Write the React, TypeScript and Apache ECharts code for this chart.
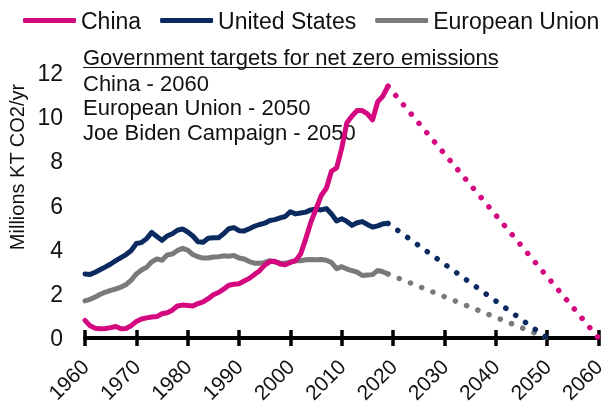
import React, { useEffect, useRef } from "react";
import * as echarts from "echarts";

const years: number[] = [];
for (let y = 1960; y <= 2019; y++) years.push(y);

const chinaValues = [
  0.8, 0.55, 0.44, 0.42, 0.43, 0.47, 0.52, 0.42, 0.43, 0.56,
  0.75, 0.86, 0.91, 0.95, 0.97, 1.1, 1.14, 1.26, 1.45, 1.49,
  1.47, 1.45, 1.56, 1.64, 1.78, 1.96, 2.06, 2.21, 2.39, 2.43,
  2.46, 2.58, 2.7, 2.88, 3.05, 3.3, 3.46, 3.47, 3.35, 3.32,
  3.42, 3.5, 3.8, 4.5, 5.25, 5.85, 6.45, 6.78, 7.55, 7.7,
  8.6, 9.75, 10.05, 10.3, 10.3, 10.15, 9.88, 10.7, 10.95, 11.4,
];
const usValues = [
  2.9, 2.88, 2.98, 3.1, 3.22, 3.35, 3.5, 3.64, 3.78, 3.96,
  4.28, 4.32, 4.5, 4.78, 4.6, 4.42, 4.62, 4.72, 4.88, 4.94,
  4.8, 4.62, 4.36, 4.34, 4.52, 4.54, 4.54, 4.72, 4.95, 5.0,
  4.86, 4.85, 4.95, 5.06, 5.14, 5.2, 5.32, 5.36, 5.44, 5.5,
  5.72, 5.62, 5.66, 5.7, 5.8, 5.84, 5.8, 5.86, 5.62, 5.3,
  5.4, 5.28, 5.1, 5.22, 5.27, 5.14, 5.02, 5.08, 5.17, 5.19,
];
const euValues = [
  1.68, 1.75, 1.86, 1.98, 2.08, 2.16, 2.22, 2.3, 2.42, 2.62,
  2.9, 3.08, 3.2, 3.45, 3.58, 3.52, 3.76, 3.8, 3.96, 4.06,
  3.98, 3.78, 3.68, 3.62, 3.62, 3.67, 3.68, 3.72, 3.7, 3.74,
  3.62, 3.58, 3.46, 3.39, 3.38, 3.42, 3.5, 3.44, 3.4, 3.38,
  3.44, 3.5, 3.5, 3.54, 3.55, 3.54, 3.55, 3.52, 3.42, 3.14,
  3.23, 3.12, 3.05, 2.98, 2.83, 2.85, 2.87, 3.06, 3.0, 2.9,
];

// Net-zero target years (projection end points)
const chinaTarget = [2060, 0];
const usTarget = [2050, 0];
const euTarget = [2050, 0];

const seriesNames = ["China", "United States", "European Union"];
const annotationTitle = "Government targets for net zero emissions";
const annotationLines = [
  "China - 2060",
  "European Union - 2050",
  "Joe Biden Campaign - 2050",
];
const yAxisName = "Millions KT CO2/yr";

const COLORS = { china: "#d4087f", us: "#0b2a5f", eu: "#7a7a7a" };
const FONT = "'Liberation Sans', Arial, sans-serif";
const TEXT = "#111";

function pairs(vals: number[]) {
  return years.map((y, i) => [y, vals[i]]);
}

export default function App() {
  const ref = useRef<HTMLDivElement>(null);
  useEffect(() => {
    if (!ref.current) return;
    const chart = echarts.init(ref.current, undefined, { renderer: "svg" });
    const last = years.length - 1;
    const solid = (name: string, vals: number[], color: string, z: number) => ({
      name,
      type: "line",
      data: pairs(vals),
      showSymbol: false,
      symbol: "none",
      z,
      lineStyle: { color, width: 5, cap: "round", join: "round" },
      itemStyle: { color },
    });
    const dotted = (name: string, vals: number[], target: number[], color: string, z: number) => ({
      name,
      type: "line",
      data: [[years[last], vals[last]], target],
      showSymbol: false,
      symbol: "none",
      z,
      lineStyle: { color, width: 5.5, type: [0.1, 12], cap: "round" },
    });
    const axisCommon = {
      type: "value",
      min: 1960,
      max: 2060,
      interval: 10,
      position: "bottom",
      splitLine: { show: false },
    };
    chart.setOption({
      animation: false,
      textStyle: { fontFamily: FONT },
      grid: {
        left: 85,
        right: 7.5,
        top: 73,
        bottom: 65,
        containLabel: false,
        outerBoundsMode: "none",
      },
      legend: {
        data: seriesNames,
        left: 23,
        top: 9,
        width: 600,
        padding: 0,
        itemWidth: 53,
        itemHeight: 5,
        itemGap: 19,
        icon: "roundRect",
        textStyle: { fontSize: 23, color: TEXT, fontFamily: FONT },
      },
      xAxis: [
        {
          ...axisCommon,
          axisLine: { show: true, lineStyle: { color: "#000", width: 4 } },
          axisTick: { show: true, length: 8, lineStyle: { color: "#000", width: 3.5 } },
          axisLabel: {
            rotate: 45,
            margin: 25,
            fontSize: 21,
            color: TEXT,
            fontFamily: FONT,
            formatter: (v: number) => String(v),
          },
        },
        {
          ...axisCommon,
          offset: 0,
          axisLine: { show: false },
          axisTick: { show: true, inside: true, length: 8, lineStyle: { color: "#000", width: 3.5 } },
          axisLabel: { show: false },
        },
      ],
      yAxis: {
        type: "value",
        min: 0,
        max: 12,
        interval: 2,
        axisLine: { show: false },
        axisTick: { show: false },
        splitLine: { show: false },
        axisLabel: { fontSize: 23, color: TEXT, margin: 22, fontFamily: FONT },
      },
      graphic: [
        {
          type: "text",
          x: 17,
          y: 167,
          rotation: Math.PI / 2,
          style: {
            text: yAxisName,
            font: `20px ${FONT}`,
            fill: TEXT,
            align: "center",
            verticalAlign: "middle",
          },
        },
        {
          type: "text",
          x: 83,
          y: 57,
          style: {
            text: annotationTitle,
            font: `22px ${FONT}`,
            fill: TEXT,
            align: "left",
            verticalAlign: "middle",
          },
        },
        {
          type: "line",
          shape: { x1: 83, y1: 67.5, x2: 498, y2: 67.5 },
          style: { stroke: TEXT, lineWidth: 1.2 },
        },
        ...annotationLines.map((t, i) => ({
          type: "text",
          x: 83,
          y: 83 + i * 24.5,
          style: {
            text: t,
            font: `22px ${FONT}`,
            fill: TEXT,
            align: "left",
            verticalAlign: "middle",
          },
        })),
      ],
      series: [
        solid(seriesNames[2], euValues, COLORS.eu, 2),
        solid(seriesNames[1], usValues, COLORS.us, 3),
        solid(seriesNames[0], chinaValues, COLORS.china, 4),
        dotted("EU target", euValues, euTarget, COLORS.eu, 2),
        dotted("US target", usValues, usTarget, COLORS.us, 3),
        dotted("China target", chinaValues, chinaTarget, COLORS.china, 4),
      ],
    });
    return () => chart.dispose();
  }, []);
  return (
    <div
      ref={ref}
      style={{ position: "fixed", left: 0, top: 0, width: 606, height: 403 }}
    />
  );
}
